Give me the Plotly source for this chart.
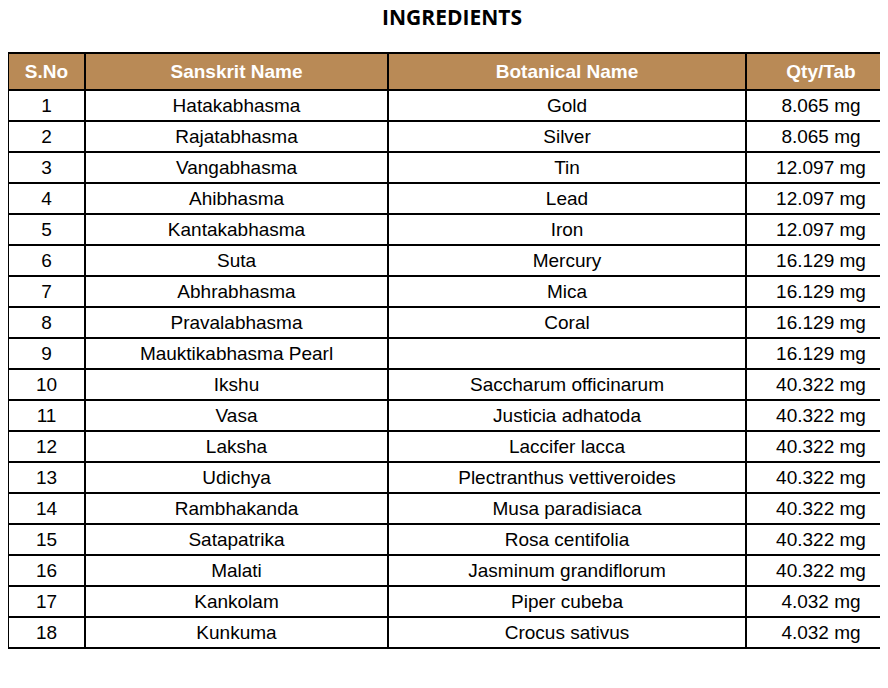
import plotly.graph_objects as go

headers = ["S.No", "Sanskrit Name", "Botanical Name", "Qty/Tab"]
sno = [str(i) for i in range(1, 19)]
sanskrit = ["Hatakabhasma", "Rajatabhasma", "Vangabhasma", "Ahibhasma", "Kantakabhasma",
            "Suta", "Abhrabhasma", "Pravalabhasma", "Mauktikabhasma Pearl", "Ikshu", "Vasa",
            "Laksha", "Udichya", "Rambhakanda", "Satapatrika", "Malati", "Kankolam", "Kunkuma"]
botanical = ["Gold", "Silver", "Tin", "Lead", "Iron", "Mercury", "Mica", "Coral", "",
             "Saccharum officinarum", "Justicia adhatoda", "Laccifer lacca",
             "Plectranthus vettiveroides", "Musa paradisiaca", "Rosa centifolia",
             "Jasminum grandiflorum", "Piper cubeba", "Crocus sativus"]
qty = ["8.065 mg", "8.065 mg", "12.097 mg", "12.097 mg", "12.097 mg", "16.129 mg",
       "16.129 mg", "16.129 mg", "16.129 mg", "40.322 mg", "40.322 mg", "40.322 mg",
       "40.322 mg", "40.322 mg", "40.322 mg", "40.322 mg", "4.032 mg", "4.032 mg"]

fig = go.Figure(go.Table(
    domain=dict(x=[0, 1], y=[0, 1 - 45 / 688]),
    columnwidth=[77, 303, 358, 150],
    header=dict(values=["<b>%s</b>" % h for h in headers], fill_color="#B98A56",
                line=dict(color="black", width=1.5), height=31, align="center",
                font=dict(family="Liberation Sans", size=19, color="white")),
    cells=dict(values=[sno, sanskrit, botanical, qty], fill_color="white",
               line=dict(color="black", width=1.5), height=31, align="center",
               font=dict(family="Liberation Sans", size=19, color="black")),
))
fig.update_layout(
    width=888, height=688, margin=dict(l=0, r=0, t=0, b=0),
    paper_bgcolor="white",
    title=dict(text="<b>INGREDIENTS</b>", x=0.5, xanchor="center", y=1 - 10 / 688, yanchor="middle",
               font=dict(family="Open Sans", size=21, color="black")),
)
fig.write_html("out.html")
